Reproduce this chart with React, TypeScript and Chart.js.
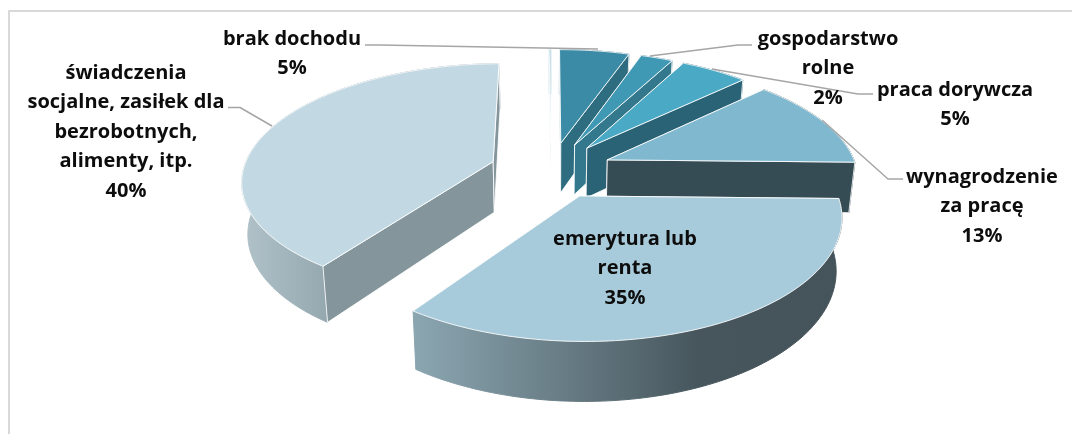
import React, { useEffect, useRef } from "react";
import { Chart, registerables } from "chart.js";

Chart.register(...registerables);

const categories = ["brak dochodu", "gospodarstwo rolne", "praca dorywcza", "wynagrodzenie za pracę", "emerytura lub renta", "świadczenia socjalne, zasiłek dla bezrobotnych, alimenty, itp.", "inne"];
const values = [5.3, 2.45, 5.1, 12.5, 34.5, 40.15, 0.12];
const topColors = ["#3b8ba6", "#3f98b4", "#4aa9c5", "#7fb8cf", "#a7cbdb", "#c2d9e3", "#6fb0c4"];
const wallColors = ["#2e6c7f", "#33788d", "#2a6376", "#364c54", "#8ea2aa", "#84959c", "#9fc4d0"];
const drawOrder = [6, 0, 1, 2, 3, 5, 4];

const labelLines = [
  ["brak dochodu", "5%"],
  ["gospodarstwo", "rolne", "2%"],
  ["praca dorywcza", "5%"],
  ["wynagrodzenie", "za pracę", "13%"],
  ["emerytura lub", "renta", "35%"],
  ["świadczenia", "socjalne, zasiłek dla", "bezrobotnych,", "alimenty, itp.", "40%"],
];
const labelAnchors = [[292, 39], [828, 39], [955, 90], [982, 177], [625, 239], [126, 73]];
const leaders = [
  [[365, 45], [380, 45], [598, 49]],
  [[752, 45], [738, 45], [650, 56]],
  [[873, 94], [858, 94], [712, 69]],
  [[903, 179], [888, 179], [822, 120]],
  [],
  [[228, 107.5], [240, 107.5], [272, 126]],
];

const CX = 551, CY = 170, RX = 250, RY = 115, K = 0.15, EXPLODE = 0.245, DEPTH = 51;

function project(x: number, y: number, lower: boolean) {
  const w = 1 + K * y;
  const px = (RX * x) / w;
  return { x: CX + px * (lower ? 0.98 : 1), y: CY - (RY * y) / w + (lower ? DEPTH / Math.pow(w, 0.8) : 0) };
}

function rimPaint(ctx: CanvasRenderingContext2D, i: number) {
  if (i === 4) {
    const g = ctx.createLinearGradient(415, 0, 845, 0);
    g.addColorStop(0, "#8ba6b1");
    g.addColorStop(0.66, "#47565d");
    g.addColorStop(1, "#45535a");
    return g;
  }
  if (i === 5) {
    const g = ctx.createLinearGradient(245, 0, 330, 0);
    g.addColorStop(0, "#b0c1c8");
    g.addColorStop(1, "#94a7af");
    return g;
  }
  return wallColors[i];
}

const pie3d = {
  id: "pie3d",
  beforeDatasetDraw(chart: any) {
    const ctx = chart.ctx as CanvasRenderingContext2D;
    const arcs = chart.getDatasetMeta(0).data;
    const slices = arcs.map((a: any) => {
      const { startAngle, endAngle } = a.getProps(["startAngle", "endAngle"], true);
      const mid = (startAngle + endAngle) / 2;
      const ox = Math.cos(mid) * EXPLODE;
      const oy = -Math.sin(mid) * EXPLODE;
      const pts = (lower: boolean) => {
        const r: { x: number; y: number }[] = [];
        const n = Math.max(2, Math.ceil((endAngle - startAngle) / 0.02));
        for (let i = 0; i <= n; i++) {
          const t = startAngle + ((endAngle - startAngle) * i) / n;
          r.push(project(ox + Math.cos(t), oy - Math.sin(t), lower));
        }
        return r;
      };
      return { apexT: project(ox, oy, false), apexB: project(ox, oy, true), top: pts(false), bot: pts(true) };
    });

    const poly = (p: { x: number; y: number }[], fill: string | CanvasGradient, stroke: string | CanvasGradient = "rgba(255,255,255,0.85)") => {
      ctx.beginPath();
      p.forEach((q, i) => (i ? ctx.lineTo(q.x, q.y) : ctx.moveTo(q.x, q.y)));
      ctx.closePath();
      ctx.fillStyle = fill;
      ctx.fill();
      ctx.strokeStyle = stroke;
      ctx.lineWidth = 1;
      ctx.stroke();
    };

    ctx.save();
    ctx.lineJoin = "round";
    drawOrder.forEach((i) => {
      const s = slices[i];
      const last = s.top.length - 1;
      const m = s.top[Math.floor(last / 2)];
      const faces = (v: { x: number; y: number }) => {
        const dx = v.x - s.apexT.x;
        if (Math.abs(dx) < 0.5) return false;
        return m.y < s.apexT.y + ((v.y - s.apexT.y) * (m.x - s.apexT.x)) / dx;
      };
      const walls = [
        { f: faces(s.top[0]), p: [s.apexT, s.top[0], s.bot[0], s.apexB] },
        { f: faces(s.top[last]), p: [s.apexT, s.top[last], s.bot[last], s.apexB] },
      ];
      walls.filter((w) => !w.f).forEach((w) => poly(w.p, wallColors[i]));
      const paint = rimPaint(ctx, i);
      poly([...s.top, ...s.bot.slice().reverse()], paint, paint);
      walls.filter((w) => w.f).forEach((w) => poly(w.p, wallColors[i]));
      poly([s.apexT, ...s.top], topColors[i]);
    });

    ctx.strokeStyle = "#a6a6a6";
    ctx.lineWidth = 1.5;
    leaders.forEach((l) => {
      if (!l.length) return;
      ctx.beginPath();
      l.forEach((q, i) => (i ? ctx.lineTo(q[0], q[1]) : ctx.moveTo(q[0], q[1])));
      ctx.stroke();
    });

    ctx.fillStyle = "#0d0d0d";
    ctx.font = 'bold 20px "Open Sans"';
    ctx.textAlign = "center";
    ctx.textBaseline = "middle";
    labelLines.forEach((lines, i) => {
      lines.forEach((t, j) => ctx.fillText(t, labelAnchors[i][0], labelAnchors[i][1] + j * 29.5));
    });
    ctx.restore();
    return false;
  },
};

const frame = {
  id: "frame",
  beforeDraw(chart: any) {
    const ctx = chart.ctx as CanvasRenderingContext2D;
    ctx.save();
    ctx.fillStyle = "#d9d9d9";
    ctx.fillRect(8, 10, 1064, 2);
    ctx.fillRect(8, 10, 2, 424);
    ctx.restore();
  },
};

export default function App() {
  const ref = useRef<HTMLCanvasElement>(null);
  useEffect(() => {
    const chart = new Chart(ref.current!, {
      type: "pie",
      data: { labels: categories, datasets: [{ data: values, backgroundColor: topColors, borderWidth: 0 }] },
      options: {
        animation: false,
        responsive: false,
        plugins: { legend: { display: false }, tooltip: { enabled: false } },
      },
      plugins: [frame, pie3d],
    });
    return () => chart.destroy();
  }, []);
  return (
    <div style={{ position: "absolute", left: 0, top: 0, width: 1072, height: 434, overflow: "hidden", background: "#fff" }}>
      <canvas ref={ref} width={1072} height={434} style={{ display: "block" }} />
    </div>
  );
}
